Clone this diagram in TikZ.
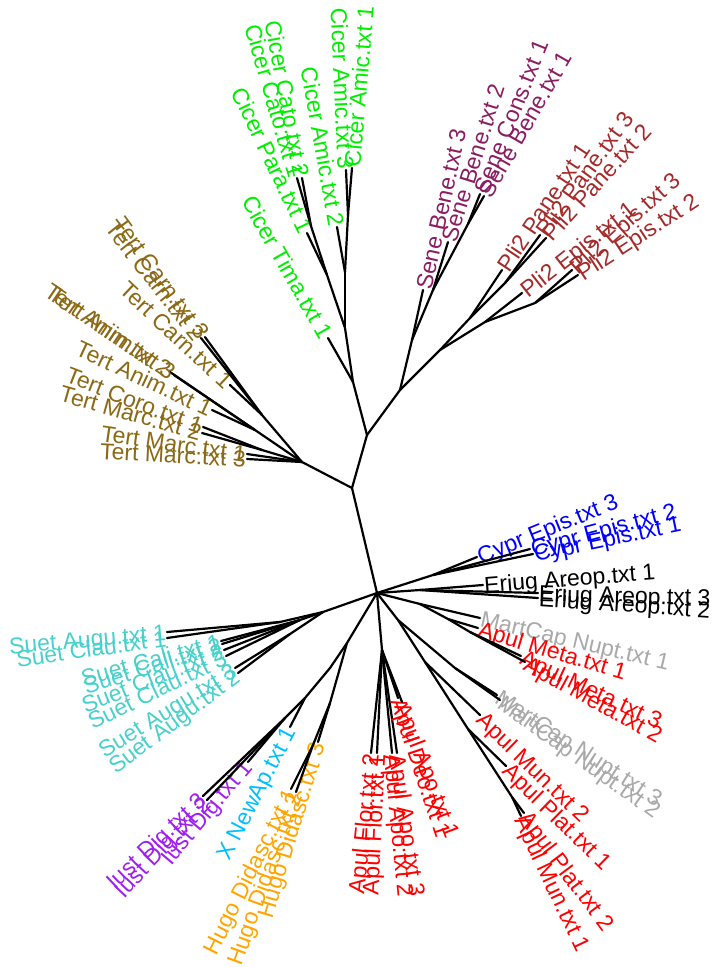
\documentclass[tikz,border=0pt]{standalone}
\usepackage{fontspec}
\newfontfamily\labfontfam{Liberation Sans}
\definecolor{cic}{HTML}{00EE00}
\definecolor{sen}{HTML}{8B1C62}
\definecolor{pli}{HTML}{A52A2A}
\definecolor{ter}{HTML}{8B6914}
\definecolor{cyp}{HTML}{0000FF}
\definecolor{mar}{HTML}{A9A9A9}
\definecolor{apu}{HTML}{FF0000}
\definecolor{hug}{HTML}{FFA500}
\definecolor{xna}{HTML}{00BFFF}
\definecolor{ius}{HTML}{A020F0}
\definecolor{sue}{HTML}{48D1CC}
\newcommand\inn[4]{\coordinate (#2) at (#3,#4); \draw[br] (#1) -- (#2);}
\newcommand\lf[6]{%
  \coordinate (#2) at (#3,#4);
  \draw[br] (#1) -- (#2);
  \pgfmathanglebetweenpoints{\pgfpointanchor{#1}{center}}{\pgfpointanchor{#2}{center}}%
  \edef\lfang{\pgfmathresult}%
  \pgfmathtruncatemacro\lfright{cos(\lfang)>0}%
  \ifnum\lfright=1
    \node[lab,text=#5,rotate=\lfang,anchor=west] (#2l) at (#2) {#6};
  \else
    \pgfmathsetmacro\lfangb{\lfang+180}%
    \node[lab,text=#5,rotate=\lfangb,anchor=east] (#2l) at (#2) {#6};
  \fi
}
\begin{document}
\begin{tikzpicture}[x=1pt,y=-1pt,
  br/.style={line width=2.2pt,line cap=round,line join=round,draw=black},
  lab/.style={font=\labfontfam\fontsize{23}{23}\selectfont,inner sep=1pt,text height=16.5pt,text depth=0pt}]
\useasboundingbox (0,0) rectangle (713,967);
\coordinate (C) at (377,593);
\inn{C}{N1}{352}{488}
\inn{N1}{T}{302}{462}
\inn{N1}{N2}{367}{435}
\inn{N2}{SP}{400}{390}
\inn{N2}{c1}{353}{382}
% Cicer
\lf{c1}{tima}{328}{338}{cic}{Cicer Tima.txt 1}
\inn{c1}{c2}{345}{328}
\inn{c2}{c5}{327}{275}
\lf{c5}{para}{307}{233}{cic}{Cicer Para.txt 1}
\inn{c5}{c6}{311}{226}
\lf{c6}{cato1}{297}{178}{cic}{Cicer Cato.txt 1}
\lf{c6}{cato2}{302}{178}{cic}{Cicer Cato.txt 2}
\inn{c2}{c3}{345}{272}
\lf{c3}{amicb}{337}{227}{cic}{Cicer Amic.txt 2}
\inn{c3}{c4}{348}{215}
\lf{c4}{amicc}{346}{170}{cic}{Cicer Amic.txt 3}
\lf{c4}{amica}{352}{168}{cic}{Cicer Amic.txt 1}
% Sene
\inn{SP}{s1}{412}{340}
\lf{s1}{bene3}{423}{290}{sen}{Sene Bene.txt 3}
\inn{s1}{s2}{433}{290}
\lf{s2}{bene2}{448}{242}{sen}{Sene Bene.txt 2}
\inn{s2}{s3}{468}{224}
\lf{s3}{cons1}{480}{194}{sen}{Sene Cons.txt 1}
\lf{s3}{bene1}{484}{196}{sen}{Sene Bene.txt 1}
% Pli2
\inn{SP}{p1}{440}{350}
\inn{p1}{pa}{470}{318}
\lf{pa}{pane1}{502}{270}{pli}{Pli2 Pane.txt 1}
\inn{pa}{pb}{505}{283}
\lf{pb}{pane3}{540}{235}{pli}{Pli2 Pane.txt 3}
\lf{pb}{pane2}{546}{238}{pli}{Pli2 Pane.txt 2}
\inn{p1}{pe}{485}{322}
\lf{pe}{epis1}{522}{293}{pli}{Pli2 Epis.txt 1}
\inn{pe}{pe2}{535}{303}
\lf{pe2}{epis3}{572}{270}{pli}{Pli2 Epis.txt 3}
\lf{pe2}{epis2}{578}{275}{pli}{Pli2 Epis.txt 2}
% Tert
\inn{T}{tc}{262}{415}
\lf{tc}{carn1}{230}{385}{ter}{Tert Carn.txt 1}
\lf{tc}{carn2}{201}{338}{ter}{Tert Carn.txt 2}
\lf{tc}{carn3}{205}{337}{ter}{Tert Carn.txt 3}
\inn{T}{ta}{255}{430}
\lf{ta}{anim1}{212}{410}{ter}{Tert Anim.txt 1}
\lf{ta}{anim2}{170}{372}{ter}{Tert Anim.txt 2}
\lf{ta}{anim3}{174}{375}{ter}{Tert Anim.txt 3}
\inn{T}{tm}{262}{450}
\lf{tm}{coro1}{203}{427}{ter}{Tert Coro.txt 1}
\lf{tm}{marc2}{202}{433}{ter}{Tert Marc.txt 2}
\lf{T}{marc1}{247}{454}{ter}{Tert Marc.txt 1}
\lf{T}{marc3}{247}{459}{ter}{Tert Marc.txt 3}
% Cypr, Eriug
\inn{C}{cy}{433}{575}
\lf{cy}{cypr3}{477}{557}{cyp}{Cypr Epis.txt 3}
\lf{cy}{cypr2}{530}{549}{cyp}{Cypr Epis.txt 2}
\lf{cy}{cypr1}{533}{554}{cyp}{Cypr Epis.txt 1}
\inn{C}{er}{420}{590}
\lf{er}{eriug1}{483}{585}{black}{Eriug Areop.txt 1}
\lf{er}{eriug3}{538}{593}{black}{Eriug Areop.txt 3}
\lf{er}{eriug2}{538}{598}{black}{Eriug Areop.txt 2}
% lower right
\inn{C}{m1}{420}{604}
\lf{m1}{mart1}{480}{618}{mar}{MartCap Nupt.txt 1}
\inn{m1}{me}{448}{619}
\lf{me}{meta1}{478}{628}{apu}{Apul Meta.txt 1}
\inn{me}{me2}{470}{632}
\lf{me2}{meta3}{521}{656}{apu}{Apul Meta.txt 3}
\lf{me2}{meta2}{525}{662}{apu}{Apul Meta.txt 2}
\inn{C}{m2}{398}{620}
\inn{m2}{mm}{455}{668}
\lf{mm}{mart3}{497}{695}{mar}{MartCap Nupt.txt 3}
\lf{mm}{mart2}{500}{700}{mar}{MartCap Nupt.txt 2}
\inn{m2}{mp}{425}{662}
\lf{mp}{mun2}{480}{715}{apu}{Apul Mun.txt 2}
\inn{mp}{pl}{468}{729}
\lf{pl}{plat1}{506}{766}{apu}{Apul Plat.txt 1}
\inn{pl}{pm}{512}{797}
\lf{pm}{plat2}{524}{813}{apu}{Apul Plat.txt 2}
\lf{pm}{mun1}{521}{816}{apu}{Apul Mun.txt 1}
% Apul Flor / Apo / Deo
\inn{C}{af}{382}{650}
\lf{af}{flor2}{371}{753}{apu}{Apul Flor.txt 2}
\lf{af}{flor1}{377}{753}{apu}{Apul Flor.txt 1}
\lf{af}{apo2}{392}{753}{apu}{Apul Apo.txt 2}
\lf{af}{apo3}{397}{753}{apu}{Apul Apo.txt 3}
\lf{af}{deo1}{398}{698}{apu}{Apul Deo.txt 1}
\lf{af}{apo1}{402}{702}{apu}{Apul Apo.txt 1}
% Suet
\inn{C}{su0}{323}{612}
\inn{su0}{su1}{280}{622}
\lf{su1}{augu1}{167}{632}{sue}{Suet Augu.txt 1}
\lf{su1}{clau1}{167}{638}{sue}{Suet Clau.txt 1}
\inn{su0}{sm}{300}{620}
\lf{sm}{cali1}{221}{641}{sue}{Suet Cali.txt 1}
\lf{sm}{cali2}{222}{644}{sue}{Suet Cali.txt 2}
\lf{sm}{clau2}{224}{650}{sue}{Suet Clau.txt 2}
\lf{sm}{clau3}{226}{656}{sue}{Suet Clau.txt 3}
\inn{su0}{su2}{290}{634}
\lf{su2}{augu3}{235}{668}{sue}{Suet Augu.txt 3}
\lf{su2}{augu2}{238}{673}{sue}{Suet Augu.txt 2}
% Iust, NewAp, Hugo
\inn{C}{h0}{347}{643}
\inn{h0}{h1}{330}{668}
\inn{h1}{ix}{305}{698}
\lf{ix}{newap}{290}{727}{xna}{X NewAp.txt 1}
\inn{ix}{iu}{285}{718}
\lf{iu}{iust1}{248}{762}{ius}{Iust Dig.txt 1}
\lf{iu}{iust3}{203}{796}{ius}{Iust Dig.txt 3}
\lf{iu}{iust2}{207}{800}{ius}{Iust Dig.txt 2}
\inn{h0}{hg}{330}{703}
\lf{hg}{hugo3}{318}{742}{hug}{Hugo Didasc.txt 3}
\inn{hg}{hg2}{313}{745}
\lf{hg2}{hugo1}{291}{789}{hug}{Hugo Didasc.txt 1}
\lf{hg2}{hugo2}{296}{792}{hug}{Hugo Didasc.txt 2}
\end{tikzpicture}
\end{document}
